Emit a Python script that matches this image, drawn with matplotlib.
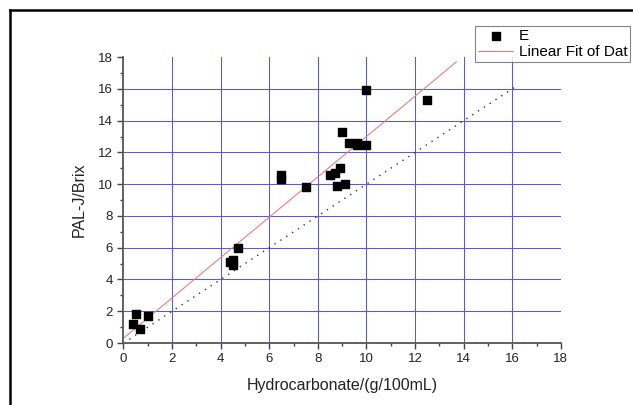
import numpy as np
import matplotlib.pyplot as plt
from matplotlib.lines import Line2D

plt.rcParams['font.family'] = ['Liberation Sans', 'DejaVu Sans']

# measured points (Hydrocarbonate vs PAL-J Brix)
hydro = [0.4, 0.5, 0.7, 1.0, 4.4, 4.5, 4.5, 4.7, 6.5, 6.5, 7.5,
         8.5, 8.7, 8.8, 8.9, 9.1, 9.0, 9.3, 9.6, 9.6, 10.0, 10.0, 12.5]
brix = [1.2, 1.8, 0.9, 1.7, 5.1, 5.2, 4.9, 6.0, 10.6, 10.3, 9.8,
        10.55, 10.7, 9.9, 11.0, 10.0, 13.3, 12.6, 12.6, 12.45, 12.45, 15.9, 15.3]

# linear fit
fit_intercept = 0.3
fit_slope = 1.27
fit_x = [0, 13.7]
# reference y = x line
ref_x = [0, 16.2]

fig = plt.figure(figsize=(6.33, 4.05), dpi=100)
ax = fig.add_axes([0.195, 0.153, 0.691, 0.706])

grid_c = '#5858e6'
for v in range(2, 18, 2):
    ax.plot([v, v], [0, 18], color=grid_c, lw=0.75, zorder=1)
    ax.plot([0, 18], [v, v], color=grid_c, lw=0.75, zorder=1)

fx = np.array(fit_x)
ax.plot(fx, fit_intercept + fit_slope * fx, color='#e08080', lw=0.8, zorder=2,
        label='Linear Fit of Dat')
ax.plot(ref_x, ref_x, color='#333333', lw=1.0, ls=(0, (1, 4)), zorder=2)
ax.scatter(hydro, brix, marker='s', s=26, color='black', zorder=3, label='E')

ax.set_xlim(0, 18)
ax.set_ylim(0, 18)
ax.set_xticks(range(0, 19, 2))
ax.set_yticks(range(0, 19, 2))
ax.set_xticks(range(1, 18, 2), minor=True)
ax.set_yticks(range(1, 18, 2), minor=True)
ax.tick_params(which='major', direction='out', length=4, width=1, labelsize=9.5,
               color='#444444', labelcolor='#222222')
ax.tick_params(which='minor', direction='out', length=2.5, width=1, color='#444444')
for s in ['top', 'right']:
    ax.spines[s].set_visible(False)
for s in ['left', 'bottom']:
    ax.spines[s].set_color('#555555')
    ax.spines[s].set_linewidth(1.3)

ax.set_xlabel('Hydrocarbonate/(g/100mL)', fontsize=11.5, labelpad=9,
              color='#222222')
ax.set_ylabel('PAL-J/Brix', fontsize=11.5, labelpad=8, color='#222222')

h, l = ax.get_legend_handles_labels()
leg = fig.legend(h[::-1], l[::-1], loc='upper left', bbox_to_anchor=(0.7504, 0.936),
                 frameon=True, fancybox=False, fontsize=11, handlelength=2.3,
                 borderpad=0.2, labelspacing=0.15, handletextpad=0.35,
                 edgecolor='#666666', borderaxespad=0)
leg.get_frame().set_linewidth(0.8)

# image border on top and left
fig.add_artist(Line2D([0.016, 1.0], [0.975, 0.975], color='black', lw=1.8,
                      transform=fig.transFigure))
fig.add_artist(Line2D([0.016, 0.016], [0.0, 0.975], color='black', lw=1.8,
                      transform=fig.transFigure))

fig.savefig('out.png', dpi=100)
